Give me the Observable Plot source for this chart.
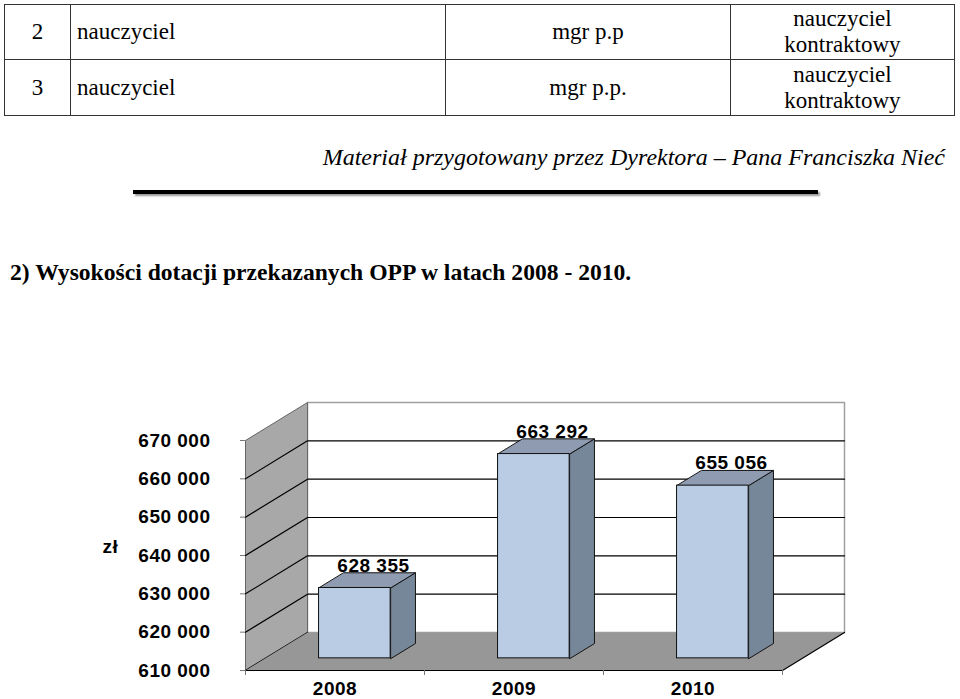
<!DOCTYPE html>
<html>
<head>
<meta charset="utf-8">
<script src="https://cdn.jsdelivr.net/npm/d3@7"></script>
<script src="https://cdn.jsdelivr.net/npm/@observablehq/plot@0.6"></script>
<style>
  html, body { margin: 0; padding: 0; background: #fff; }
  body { width: 960px; height: 699px; position: relative; overflow: hidden; }
  .serif { font-family: "Liberation Serif", "Times New Roman", serif; color: #000; }
  #tbl { position: absolute; left: 4px; top: 4px; border-collapse: collapse; table-layout: fixed; width: 950px; }
  #tbl td { border: 1.5px solid #333; padding: 0; font-size: 23px; vertical-align: middle; font-family: "Liberation Serif", "Times New Roman", serif; }
  #tbl td.c1 { text-align: center; }
  #tbl td.c2 { text-align: left; padding-left: 6px; }
  #tbl td.c3 { text-align: center; }
  #tbl td.c4 { text-align: center; line-height: 26px; }
  #credit { position: absolute; right: 15px; top: 145px; font-size: 24px; line-height: 24px; font-style: italic; white-space: nowrap; }
  #rule { position: absolute; left: 133px; top: 190px; width: 685px; height: 4px; background: #000; box-shadow: 2px 2px 2px #999; }
  #heading { position: absolute; left: 10px; top: 261px; font-size: 23.6px; line-height: 23.6px; font-weight: bold; white-space: nowrap; }
  #chart { position: absolute; left: 0; top: 399px; }
</style>
</head>
<body>
<table id="tbl" class="serif"></table>
<div id="credit" class="serif"></div>
<div id="rule"></div>
<div id="heading" class="serif"></div>
<div id="chart"></div>
<script>
// ---- document texts ----
const tableNumbers = ["2", "3"];
const tableNames = ["nauczyciel", "nauczyciel"];
const tableDegrees = ["mgr p.p", "mgr p.p."];
const tableRanks = [["nauczyciel", "kontraktowy"], ["nauczyciel", "kontraktowy"]];
const creditText = "Materiał przygotowany przez Dyrektora – Pana Franciszka Nieć";
const headingText = "2) Wysokości dotacji przekazanych OPP w latach 2008 - 2010.";

// ---- chart data ----
const years = ["2008", "2009", "2010"];
const values = [628355, 663292, 655056];
const yTicks = [610000, 620000, 630000, 640000, 650000, 660000, 670000];
const unitLabel = "zł";

// ---- build table ----
const tbl = document.getElementById("tbl");
const colW = [66, 375, 285, 224];
const cg = document.createElement("colgroup");
colW.forEach(w => { const c = document.createElement("col"); c.style.width = w + "px"; cg.appendChild(c); });
tbl.appendChild(cg);
const rowH = [55, 56];
tableNumbers.forEach((n, i) => {
  const tr = document.createElement("tr");
  tr.style.height = rowH[i] + "px";
  const cells = [
    ["c1", n],
    ["c2", tableNames[i]],
    ["c3", tableDegrees[i]],
    ["c4", tableRanks[i].join("<br>")]
  ];
  cells.forEach(([cls, html]) => {
    const td = document.createElement("td");
    td.className = cls;
    td.innerHTML = html;
    tr.appendChild(td);
  });
  tbl.appendChild(tr);
});
document.getElementById("credit").textContent = creditText;
document.getElementById("heading").textContent = headingText;

// ---- 3D geometry (depth offsets expressed in data units) ----
const Y0 = yTicks[0], Y1 = yTicks[yTicks.length - 1];
const nCat = years.length;
const DX = 62 / 179;               // depth shift along x, in category units
const DY = 38 * (Y1 - Y0) / 230;   // depth shift along y, in value units
const FRONT = 0.32, BACK = 0.72, BAR_W = 0.40;
const pt = (c, v, d, id) => ({x: c + d * DX, y: v + d * DY, id});
const fmt = d => d3.format(",")(d).replace(/,/g, " ");

const backWall = [pt(0, Y0, 1, "b"), pt(0, Y1, 1, "b"), pt(nCat, Y1, 1, "b"), pt(nCat, Y0, 1, "b")];
const sideWall = [pt(0, Y0, 0, "s"), pt(0, Y1, 0, "s"), pt(0, Y1, 1, "s"), pt(0, Y0, 1, "s")];
const floor = [pt(0, Y0, 0, "f"), pt(nCat, Y0, 0, "f"), pt(nCat, Y0, 1, "f"), pt(0, Y0, 1, "f")];
const floorEdge = [pt(0, Y0, 0, "e"), pt(nCat, Y0, 0, "e"), pt(nCat, Y0, 1, "e")];
const backGrid = yTicks.slice(1, -1).flatMap(v => [pt(0, v, 1, v), pt(nCat, v, 1, v)]);
const sideGrid = yTicks.slice(0, -1).flatMap(v => [pt(0, v, 0, v), pt(0, v, 1, v)]);

const bars = years.map((yr, i) => {
  const c1 = i + 0.5 - BAR_W / 2, c2 = i + 0.5 + BAR_W / 2;
  return {yr, v: values[i], c1, c2};
});
const fronts = bars.map(b => ({
  x1: b.c1 + FRONT * DX, x2: b.c2 + FRONT * DX,
  y1: Y0 + FRONT * DY, y2: b.v + FRONT * DY
}));
const sides = bars.flatMap(b => [
  pt(b.c2, Y0, FRONT, b.yr), pt(b.c2, b.v, FRONT, b.yr),
  pt(b.c2, b.v, BACK, b.yr), pt(b.c2, Y0, BACK, b.yr)
]);
const tops = bars.flatMap(b => [
  pt(b.c1, b.v, FRONT, b.yr), pt(b.c2, b.v, FRONT, b.yr),
  pt(b.c2, b.v, BACK, b.yr), pt(b.c1, b.v, BACK, b.yr)
]);
const labels = bars.map((b, i) => ({
  x: i + 0.5 + 0.62 * DX, y: b.v + BACK * DY, text: fmt(b.v)
}));

const chart = Plot.plot({
  width: 960,
  height: 300,
  marginLeft: 245,
  marginRight: 178,
  marginTop: 41,
  marginBottom: 29,
  x: {domain: [0, nCat]},
  y: {domain: [Y0, Y1]},
  style: {
    fontFamily: "'Liberation Sans', Arial, sans-serif",
    fontSize: "19px",
    fontWeight: "bold",
    letterSpacing: "0.5px",
    color: "#000",
    background: "transparent",
    overflow: "visible"
  },
  marks: [
    Plot.line(backWall, {x: "x", y: "y", z: "id", curve: "linear-closed", fill: "#fff", stroke: "#a0a0a0", strokeWidth: 1.5}),
    Plot.line(backGrid, {x: "x", y: "y", z: "id", stroke: "#000", strokeWidth: 1.2}),
    Plot.line(sideWall, {x: "x", y: "y", z: "id", curve: "linear-closed", fill: "#a8a8a8", stroke: "#666", strokeWidth: 1}),
    Plot.line(sideGrid, {x: "x", y: "y", z: "id", stroke: "#000", strokeWidth: 1.2}),
    Plot.line(floor, {x: "x", y: "y", z: "id", curve: "linear-closed", fill: "#979797", stroke: "none"}),
    Plot.line(floorEdge, {x: "x", y: "y", z: "id", stroke: "#000", strokeWidth: 1.2}),
    Plot.line(sides, {x: "x", y: "y", z: "id", curve: "linear-closed", fill: "#77879a", stroke: "#111", strokeWidth: 1}),
    Plot.line(tops, {x: "x", y: "y", z: "id", curve: "linear-closed", fill: "#8e9bb0", stroke: "#111", strokeWidth: 1}),
    Plot.rect(fronts, {x1: "x1", x2: "x2", y1: "y1", y2: "y2", fill: "#b9cce4", stroke: "#111", strokeWidth: 1}),
    Plot.text(labels, {x: "x", y: "y", text: "text", lineAnchor: "bottom", dy: -1, fill: "#000"}),
    Plot.axisY(yTicks, {anchor: "left", tickSize: 5, tickPadding: 30, tickFormat: fmt, stroke: "#777", fill: "#000"}),
    Plot.axisX(d3.range(nCat + 1), {anchor: "bottom", tickSize: 5, tickFormat: () => "", stroke: "#777"}),
    Plot.axisX(years.map((y, i) => i + 0.5), {anchor: "bottom", tickSize: 0, tickPadding: 11, tickFormat: d => years[Math.floor(d)], fill: "#000"}),
    Plot.text([unitLabel], {frameAnchor: "left", dx: -143, dy: -9, textAnchor: "start", fill: "#000"})
  ]
});
document.getElementById("chart").appendChild(chart);
</script>
</body>
</html>
